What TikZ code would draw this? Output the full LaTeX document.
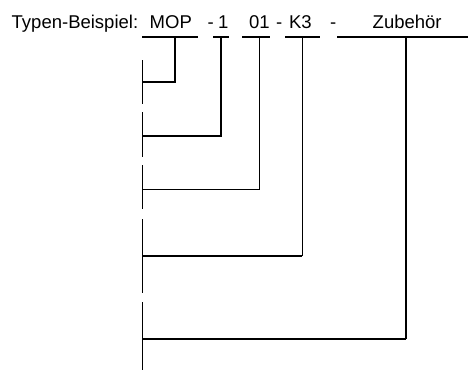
\documentclass[tikz,border=0pt]{standalone}
\usepackage{fontspec}
\setmainfont{Liberation Sans}
\begin{document}
\begin{tikzpicture}[x=1pt,y=-1pt,
  lbl/.style={anchor=base west,inner sep=0pt,font=\fontsize{18.5}{22}\selectfont},
  heavy/.style={line width=2.4pt},
  mid/.style={line width=1.8pt},
  fine/.style={line width=0.9pt},
  rail/.style={line width=1pt,line cap=butt}]
\useasboundingbox (0,0) rectangle (468,370);
% texts
\node[lbl] (t0) at (11.5,28.5) {Typen-Beispiel:};
\node[lbl] (t1) at (149.5,28.5) {MOP};
\node[lbl] (t2) at (207.5,28.5) {-};
\node[lbl] (t3) at (218,28.5) {1};
\node[lbl] (t4) at (249,28.5) {01};
\node[lbl] (t5) at (276,28.5) {-};
\node[lbl] (t6) at (288.8,28.5) {K3};
\node[lbl] (t7) at (330,28.5) {-};
\node[lbl] (t8) at (372.5,28.5) {Zubehör};
% bars under the parts
\coordinate (b1l) at (142,37); \coordinate (b1r) at (198,37);
\coordinate (b2l) at (213,37); \coordinate (b2r) at (229,37);
\coordinate (b3l) at (242,37); \coordinate (b3r) at (270,37);
\coordinate (b4l) at (285,37); \coordinate (b4r) at (320,37);
\coordinate (b5l) at (337,37); \coordinate (b5r) at (468,37);
\draw[heavy] (b1l) -- (b1r);
\draw[heavy] (b2l) -- (b2r);
\draw[heavy] (b3l) -- (b3r);
\draw[heavy] (b4l) -- (b4r);
\draw[heavy] (b5l) -- (b5r);
% drop points
\coordinate (d1) at (175,37); \coordinate (e1) at (142,82);
\coordinate (d2) at (221,37); \coordinate (e2) at (142,136);
\coordinate (d3) at (259,37); \coordinate (e3) at (142,189);
\coordinate (d4) at (302,37); \coordinate (e4) at (142,256);
\coordinate (d5) at (406,37); \coordinate (e5) at (142,339);
% connectors
\draw[heavy] (d1) |- (e1);
\draw[mid] (d2) |- (e2);
\draw[fine] (d3) |- (e3);
\draw[fine] (d4) -- (d4 |- e4);
\draw[heavy] (d4 |- e4) -- (e4);
\draw[mid] (d5) -- (d5 |- e5);
\draw[heavy] (d5 |- e5) -- (e5);
% left rail
\coordinate (r0) at (142,60); \coordinate (r1) at (142,104);
\coordinate (r2) at (142,112); \coordinate (r3) at (142,157);
\coordinate (r4) at (142,165); \coordinate (r5) at (142,209);
\coordinate (r6) at (142,219); \coordinate (r7) at (142,293);
\coordinate (r8) at (142,302); \coordinate (r9) at (142,370);
\draw[rail] (r0) -- (r1);
\draw[rail] (r2) -- (r3);
\draw[rail] (r4) -- (r5);
\draw[rail] (r6) -- (r7);
\draw[rail] (r8) -- (r9);
\end{tikzpicture}
\end{document}
